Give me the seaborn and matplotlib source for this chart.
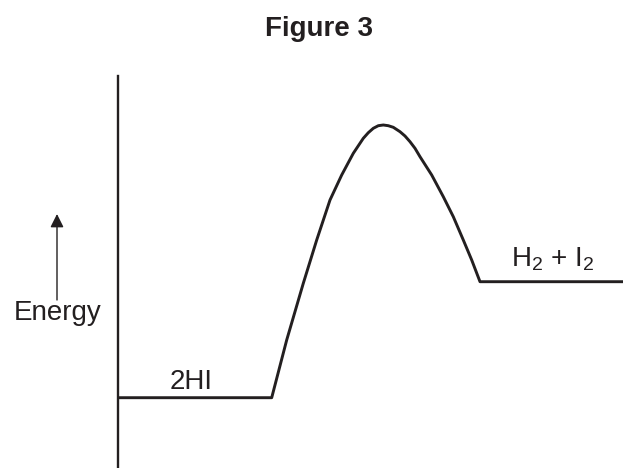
import numpy as np
import pandas as pd
import matplotlib
matplotlib.use('Agg')
import matplotlib.pyplot as plt
import seaborn as sns

# Energy profile for 2HI -> H2 + I2 (arbitrary units)
progress = [0, 153.7, 168.7, 185.3, 198.7, 212, 223.7, 235.3, 245.3, 250.3, 255.3,
            260.3, 265.3, 270.3, 275.3, 282, 287, 292, 297, 302, 313.7, 325.3,
            335.3, 345.3, 353.7, 362, 505]
energy = [70.3, 70.3, 128, 184.7, 228, 268, 293, 314.7, 329.7, 335.3, 339.7,
          342.3, 343, 342.3, 340.7, 336.3, 332, 326.3, 319.7, 311.3, 293, 271.3,
          251.3, 228, 208, 186.3, 186.3]
reactant_label = '2HI'
product_label = r'H$_2$ + I$_2$'
reactant_energy = energy[0]
product_energy = energy[-1]

df = pd.DataFrame({'progress': progress, 'energy': energy})

sns.set_theme(style='white')
plt.rcParams['font.family'] = ['Liberation Sans', 'DejaVu Sans']
plt.rcParams['mathtext.default'] = 'regular'

W, H = 623, 468
ink = '#231f20'

def fx(x):
    return x / W

def fy(y):
    return 1 - y / H

fig = plt.figure(figsize=(W / 100, H / 100), dpi=100)
ax = fig.add_axes([fx(118), 0, fx(623 - 118), (468 - 76) / H])

sns.lineplot(data=df, x='progress', y='energy', sort=False, estimator=None,
             color=ink, linewidth=2.1, ax=ax)

ax.set_xlim(0, 505)
ax.set_ylim(0, 392)
for s in ['top', 'right', 'bottom']:
    ax.spines[s].set_visible(False)
ax.spines['left'].set_color(ink)
ax.spines['left'].set_linewidth(1.7)
ax.set_xticks([])
ax.set_yticks([])
ax.set_xlabel('')
ax.set_ylabel('')
ax.patch.set_alpha(0)

# level labels
ax.text(73, reactant_energy + 9, reactant_label, ha='center', va='baseline',
        fontsize=20, color=ink)
ax.text(435, product_energy + 15, product_label, ha='center', va='baseline',
        fontsize=20, color=ink)

# energy arrow + label
ax.annotate('', xy=(fx(57), fy(214)), xytext=(fx(57), fy(300)),
            xycoords='figure fraction', textcoords='figure fraction',
            arrowprops=dict(arrowstyle='-|>', color=ink, lw=1.0,
                            mutation_scale=20, shrinkA=0, shrinkB=0))
fig.text(fx(58), fy(320), 'Energy', ha='center', va='baseline', fontsize=20, color=ink)

fig.text(fx(319), fy(36), 'Figure 3', ha='center', va='baseline', fontsize=20,
         fontweight='bold', color=ink)

plt.savefig('out.png', dpi=100)
